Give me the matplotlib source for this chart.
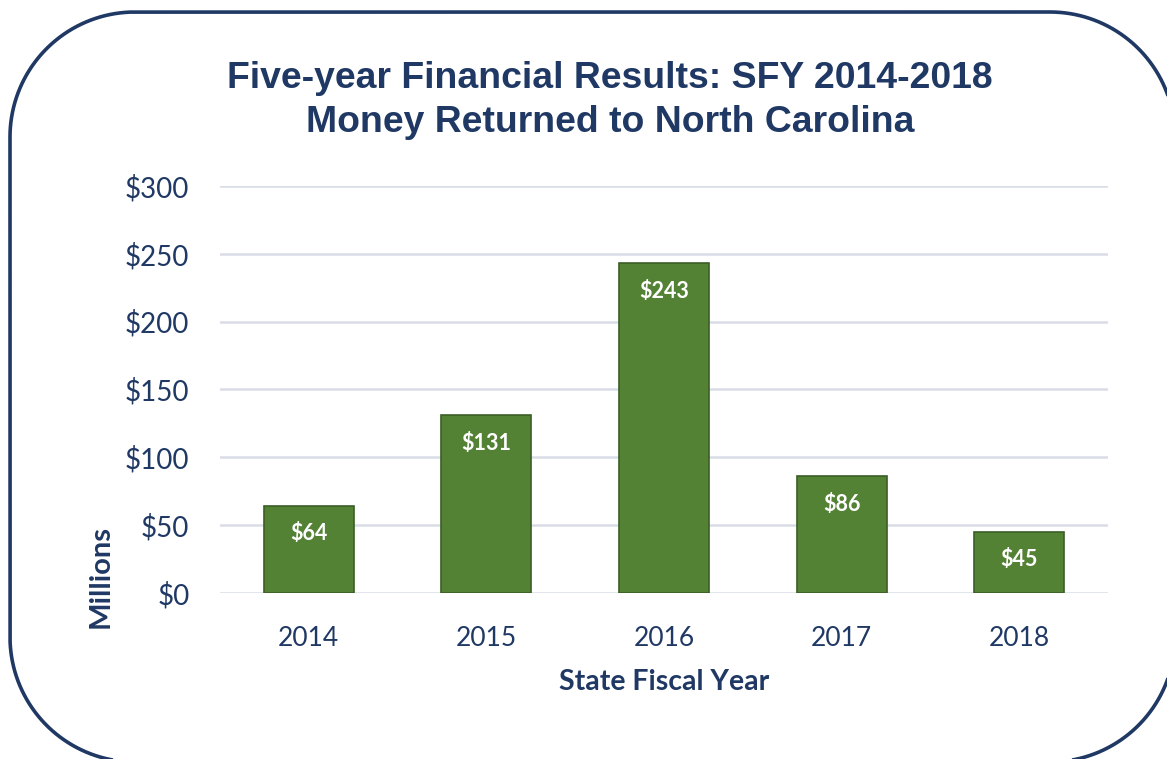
import numpy as np
import matplotlib.pyplot as plt
from matplotlib.patches import PathPatch
from matplotlib.path import Path
from matplotlib.transforms import IdentityTransform

# data (millions of dollars)
years = ["2014", "2015", "2016", "2017", "2018"]
returned = [64, 131, 243, 86, 45]
y_ticks = [0, 50, 100, 150, 200, 250, 300]

navy = "#1F3864"
green = "#548235"
edge = "#3B5E26"
grid = "#D9DEE6"

W, H = 1167, 759
fig = plt.figure(figsize=(W / 100, H / 100), dpi=100)
fig.patch.set_facecolor("white")


def rounded_frame(left, bottom, right, top, r, n=40):
    """ Closed outline of a rectangle with circular corners (pixel coords).
    """
    pts = []
    corners = [(right - r, top - r, 0), (left + r, top - r, 90),
               (left + r, bottom + r, 180), (right - r, bottom + r, 270)]
    for cx, cy, a0 in corners:
        t = np.deg2rad(np.linspace(a0, a0 + 90, n))
        pts += list(zip(cx + r * np.cos(t), cy + r * np.sin(t)))
    pts.append(pts[0])
    return Path(pts)


# frame in display pixels, origin bottom-left
frame = PathPatch(rounded_frame(10, -3, 1175, H - 12, 125),
                  transform=IdentityTransform(),
                  facecolor="none", edgecolor=navy, linewidth=2.6)
fig.add_artist(frame)

# axes placed by pixel position
x0, x1 = 220, 1108
y_top, y_bot = 186, 593
ax = fig.add_axes([x0 / W, 1 - y_bot / H, (x1 - x0) / W, (y_bot - y_top) / H])

x = np.arange(len(years))
bars = ax.bar(x, returned, width=0.507, color=green, edgecolor=edge,
              linewidth=1.2, zorder=3)

for b, v in zip(bars, returned):
    ax.annotate("$%d" % v, (b.get_x() + b.get_width() / 2, v),
                xytext=(0, -20), textcoords="offset points",
                ha="center", va="center", color="white",
                fontsize=15.5, fontweight="bold", family="Lato", zorder=4)

ax.set_xlim(-0.5, len(years) - 0.5)
ax.set_ylim(0, 300)
ax.set_yticks(y_ticks)
ax.set_yticklabels(["$%d" % t for t in y_ticks])
ax.set_xticks(x)
ax.set_xticklabels(years)
ax.yaxis.grid(True, color=grid, linewidth=1.8, zorder=0)
ax.set_axisbelow(True)
for s in ax.spines.values():
    s.set_visible(False)
ax.tick_params(axis="both", length=0, labelcolor=navy, labelsize=19)
ax.tick_params(axis="y", labelsize=20, pad=22)
ax.tick_params(axis="x", pad=24)
for lbl in ax.get_xticklabels() + ax.get_yticklabels():
    lbl.set_family("Lato")

fig.text(610 / W, 1 - 78 / H, "Five-year Financial Results: SFY 2014-2018",
         ha="center", va="center", fontsize=26.9, fontweight="bold",
         color=navy, family="Liberation Sans")
fig.text(610 / W, 1 - 122 / H, "Money Returned to North Carolina",
         ha="center", va="center", fontsize=26.9, fontweight="bold",
         color=navy, family="Liberation Sans")

fig.text(664 / W, 1 - 682 / H, "State Fiscal Year", ha="center", va="center",
         fontsize=20.5, fontweight="bold", color=navy, family="Lato")
fig.text(101 / W, 1 - 576 / H, "Millions", ha="center", va="center",
         rotation=90, fontsize=21, fontweight="bold", color=navy, family="Lato")

fig.savefig("out.png", dpi=100)
